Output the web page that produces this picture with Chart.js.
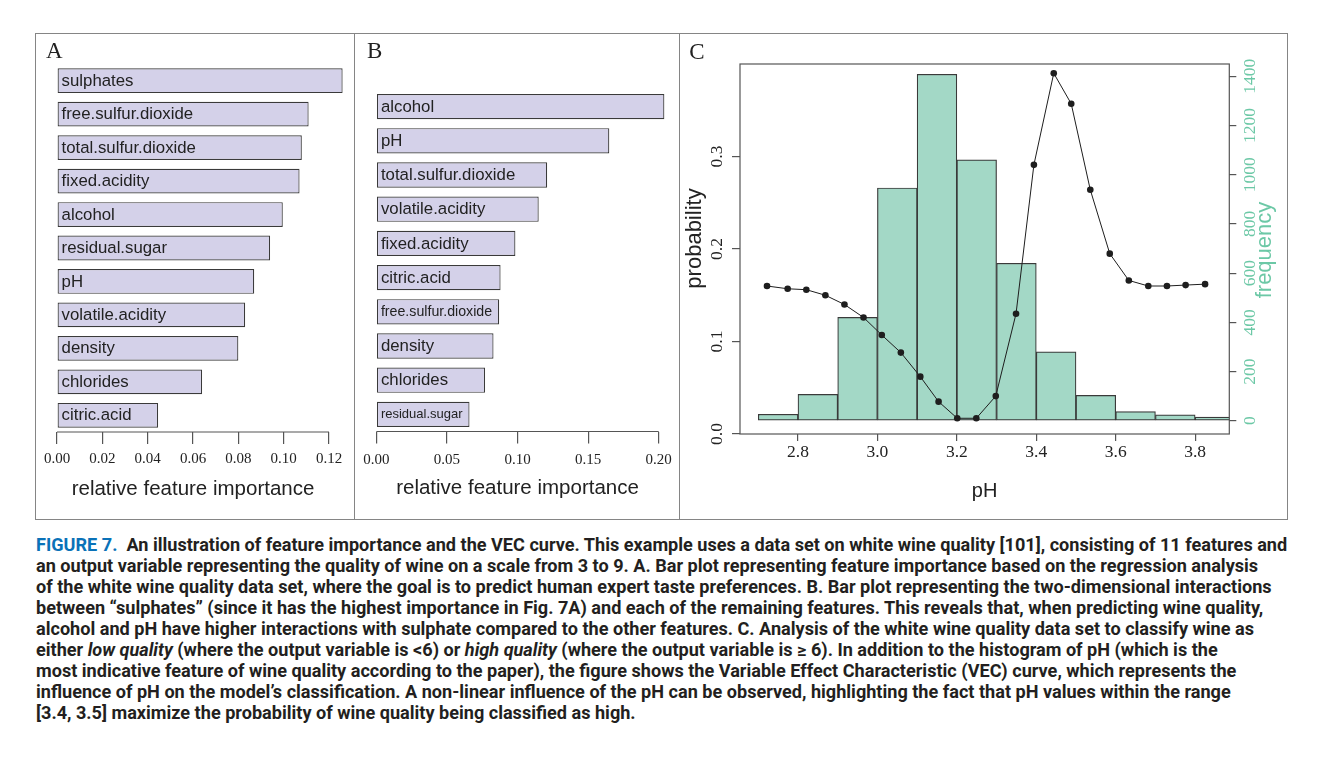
<!DOCTYPE html>
<html lang="en">
<head>
<meta charset="UTF-8">
<title>Feature importance and the VEC curve</title>
<script src="https://cdn.jsdelivr.net/npm/chart.js"></script>
<style>
  body {
    margin: 0;
    width: 1342px;
    height: 771px;
    position: relative;
    overflow: hidden;
    background: #fff;
    font-family: "Liberation Sans", Arial, sans-serif;
  }
  #frame {
    position: absolute;
    left: 35.25px; top: 33.25px;
    width: 1252.5px; height: 486.5px;
    border: 1.5px solid #858585;
    box-sizing: border-box;
  }
  .divider {
    position: absolute;
    top: 34px; height: 485px; width: 0;
    border-left: 1.5px solid #858585;
  }
  .panel { position: absolute; top: 35px; height: 484px; }
  .letter {
    position: absolute;
    font-family: "Liberation Serif", "Times New Roman", serif;
    font-size: 23px; line-height: 23px;
    color: #222;
  }
  #caption {
    position: absolute;
    left: 36px; top: 535px;
    font-family: Roboto, "Noto Sans", sans-serif;
    font-weight: 700;
    font-size: 17.5px;
    line-height: 21px;
    color: #231f20;
    white-space: nowrap;
    transform-origin: left top;
  }
  #caption .fig { color: #0a72b8; }
</style>
</head>
<body>

<div id="frame"></div>
<div class="divider" style="left:354.25px"></div>
<div class="divider" style="left:679.25px"></div>

<div class="panel" style="left:37px;width:317px"><canvas id="chartA"></canvas></div>
<div class="panel" style="left:356px;width:323px"><canvas id="chartB"></canvas></div>
<div class="panel" style="left:681px;width:605px"><canvas id="chartC"></canvas></div>

<div class="letter" style="left:46px;top:39.3px">A</div>
<div class="letter" style="left:367px;top:39.3px">B</div>
<div class="letter" style="left:689.3px;top:40px">C</div>

<div id="caption">
  <span class="ln"><span class="fig">FIGURE 7.</span>&nbsp; An illustration of feature importance and the VEC curve. This example uses a data set on white wine quality [101], consisting of 11 features and</span><br>
  <span class="ln">an output variable representing the quality of wine on a scale from 3 to 9. A. Bar plot representing feature importance based on the regression analysis</span><br>
  <span class="ln">of the white wine quality data set, where the goal is to predict human expert taste preferences. B. Bar plot representing the two-dimensional interactions</span><br>
  <span class="ln">between “sulphates” (since it has the highest importance in Fig. 7A) and each of the remaining features. This reveals that, when predicting wine quality,</span><br>
  <span class="ln">alcohol and pH have higher interactions with sulphate compared to the other features. C. Analysis of the white wine quality data set to classify wine as</span><br>
  <span class="ln">either <i>low quality</i> (where the output variable is &lt;6) or <i>high quality</i> (where the output variable is ≥ 6). In addition to the histogram of pH (which is the</span><br>
  <span class="ln">most indicative feature of wine quality according to the paper), the figure shows the Variable Effect Characteristic (VEC) curve, which represents the</span><br>
  <span class="ln">influence of pH on the model’s classification. A non-linear influence of the pH can be observed, highlighting the fact that pH values within the range</span><br>
  <span class="ln">[3.4, 3.5] maximize the probability of wine quality being classified as high.</span>
</div>

<script>
  // Panel A : importance des variables
  const featuresA = ['sulphates', 'free.sulfur.dioxide', 'total.sulfur.dioxide', 'fixed.acidity', 'alcohol',
    'residual.sugar', 'pH', 'volatile.acidity', 'density', 'chlorides', 'citric.acid'];
  const importanceA = [0.126, 0.111, 0.108, 0.107, 0.0996, 0.094, 0.087, 0.083, 0.080, 0.064, 0.0446];
  const ticksA = [0, 0.02, 0.04, 0.06, 0.08, 0.10, 0.12];

  // Panel B : interactions avec sulphates
  const featuresB = ['alcohol', 'pH', 'total.sulfur.dioxide', 'volatile.acidity', 'fixed.acidity',
    'citric.acid', 'free.sulfur.dioxide', 'density', 'chlorides', 'residual.sugar'];
  const importanceB = [0.204, 0.165, 0.121, 0.115, 0.0985, 0.088, 0.087, 0.083, 0.077, 0.066];
  const ticksB = [0, 0.05, 0.10, 0.15, 0.20];

  // Panel C : histogramme du pH + courbe VEC
  const phBins = [2.75, 2.85, 2.95, 3.05, 3.15, 3.25, 3.35, 3.45, 3.55, 3.65, 3.75, 3.85];
  const phFreq = [26, 107, 420, 946, 1408, 1060, 640, 280, 103, 37, 24, 15];
  const vecPH = [2.722, 2.774, 2.821, 2.869, 2.917, 2.965, 3.011, 3.059, 3.108, 3.154, 3.201, 3.249,
    3.298, 3.349, 3.394, 3.444, 3.488, 3.536, 3.585, 3.633, 3.682, 3.729, 3.776, 3.825];
  const vecProb = [0.160, 0.157, 0.156, 0.150, 0.140, 0.126, 0.107, 0.088, 0.062, 0.035, 0.017, 0.017,
    0.041, 0.130, 0.291, 0.390, 0.357, 0.264, 0.195, 0.166, 0.160, 0.160, 0.161, 0.162];
  const phTicks = [2.8, 3.0, 3.2, 3.4, 3.6, 3.8];
  const probTicks = [0, 0.1, 0.2, 0.3];
  const freqTicks = [0, 200, 400, 600, 800, 1000, 1200, 1400];

  const mint = '#6cc8a6';
  const serif = '"Liberation Serif", "Times New Roman", serif';
  Chart.defaults.font.family = '"Liberation Sans", Arial, sans-serif';
  Chart.defaults.color = '#222';

  const fixedTicks = list => scale => { scale.ticks = list.map(v => ({ value: v })); };

  // noms des variables écrits dans les barres
  const barLabels = {
    id: 'barLabels',
    afterDatasetsDraw(chart) {
      const ctx = chart.ctx;
      const meta = chart.getDatasetMeta(0);
      ctx.save();
      ctx.fillStyle = '#222';
      ctx.textBaseline = 'middle';
      ctx.textAlign = 'left';
      meta.data.forEach((bar, i) => {
        const { x, y, base } = bar.getProps(['x', 'y', 'base'], true);
        const text = chart.data.labels[i];
        let size = 16.8;
        ctx.font = size + 'px "Liberation Sans", Arial, sans-serif';
        const room = x - base - 11;
        const w = ctx.measureText(text).width;
        if (w > room) {
          size = size * room / w;
          ctx.font = size + 'px "Liberation Sans", Arial, sans-serif';
        }
        ctx.fillText(text, base + 4, y + 0.5);
      });
      ctx.restore();
    }
  };

  // axe façon R : ligne du premier au dernier tick, titre centré dessous
  const axisLine = {
    id: 'axisLine',
    afterDraw(chart) {
      const s = chart.scales.x;
      const ctx = chart.ctx;
      const y = chart.chartArea.bottom;
      const x0 = s.getPixelForValue(s.ticks[0].value);
      const x1 = s.getPixelForValue(s.ticks[s.ticks.length - 1].value);
      ctx.save();
      ctx.strokeStyle = '#555';
      ctx.lineWidth = 1.2;
      ctx.beginPath();
      ctx.moveTo(x0, y);
      ctx.lineTo(x1, y);
      ctx.stroke();
      ctx.fillStyle = '#222';
      ctx.font = '20.5px "Liberation Sans", Arial, sans-serif';
      ctx.textAlign = 'center';
      ctx.textBaseline = 'middle';
      ctx.fillText('relative feature importance', (x0 + x1) / 2, y + 57);
      ctx.restore();
    }
  };

  function importanceChart(id, labels, values, ticks, o) {
    return new Chart(document.getElementById(id), {
      type: 'bar',
      data: {
        labels: labels,
        datasets: [{
          data: values,
          backgroundColor: '#d4d1e9',
          borderColor: '#3a3a3a',
          borderWidth: 1.2,
          borderSkipped: false,
          barPercentage: 0.74,
          categoryPercentage: 1
        }]
      },
      options: {
        indexAxis: 'y',
        animation: false,
        responsive: true,
        maintainAspectRatio: false,
        layout: { padding: o.padding },
        plugins: { legend: { display: false }, tooltip: { enabled: false } },
        scales: {
          y: { display: false },
          x: {
            min: 0,
            max: o.max,
            afterBuildTicks: fixedTicks(ticks),
            afterFit: s => { s.height = o.axisHeight; },
            grid: { drawOnChartArea: false, drawTicks: true, tickLength: 12, color: '#555', lineWidth: 1.2 },
            border: { display: false },
            ticks: {
              padding: o.tickPad,
              color: '#222',
              autoSkip: false,
              maxRotation: 0,
              font: { family: serif, size: 15 },
              callback: v => Number(v).toFixed(2)
            }
          }
        }
      },
      plugins: [barLabels, axisLine]
    });
  }

  importanceChart('chartA', featuresA, importanceA, ticksA, {
    max: 0.13, padding: { left: 20, right: 2.3, top: 29, bottom: 0 }, axisHeight: 87, tickPad: 5.8
  });
  importanceChart('chartB', featuresB, importanceB, ticksB, {
    max: 0.21, padding: { left: 19, right: 0.2, top: 54.5, bottom: 0 }, axisHeight: 87.5, tickPad: 7.2
  });

  // cadre du panneau C et titres verticaux (lus de bas en haut, comme dans R)
  const frameC = {
    id: 'frameC',
    afterDraw(chart) {
      const { ctx, chartArea: a } = chart;
      ctx.save();
      ctx.strokeStyle = '#555';
      ctx.lineWidth = 1.2;
      ctx.strokeRect(a.left, a.top, a.right - a.left, a.bottom - a.top);
      ctx.font = '22px "Liberation Sans", Arial, sans-serif';
      ctx.textAlign = 'center';
      ctx.textBaseline = 'middle';
      const mid = (a.top + a.bottom) / 2;
      ctx.save();
      ctx.translate(a.left - 44.6, mid - 10.5);
      ctx.rotate(-Math.PI / 2);
      ctx.fillStyle = '#222';
      ctx.fillText('probability', 0, 0);
      ctx.restore();
      ctx.translate(a.right + 35.4, mid + 1);
      ctx.rotate(-Math.PI / 2);
      ctx.fillStyle = mint;
      ctx.fillText('frequency', 0, 0);
      ctx.restore();
    }
  };

  new Chart(document.getElementById('chartC'), {
    type: 'bar',
    data: {
      datasets: [{
        type: 'line',
        data: vecPH.map((x, i) => ({ x: x, y: vecProb[i] })),
        yAxisID: 'yProb',
        borderColor: '#1e1e1e',
        borderWidth: 1,
        pointRadius: 3.3,
        pointBackgroundColor: '#1e1e1e',
        pointBorderWidth: 0,
        tension: 0,
        order: 0
      }, {
        type: 'bar',
        data: phBins.map((x, i) => ({ x: x, y: phFreq[i] })),
        yAxisID: 'yFreq',
        backgroundColor: '#a3d8c6',
        borderColor: '#3a3a3a',
        borderWidth: 1.2,
        borderSkipped: false,
        barPercentage: 1,
        categoryPercentage: 1,
        order: 1
      }]
    },
    options: {
      animation: false,
      responsive: true,
      maintainAspectRatio: false,
      layout: { padding: { top: 29, left: 0, right: 0, bottom: 0 } },
      plugins: { legend: { display: false }, tooltip: { enabled: false } },
      scales: {
        x: {
          type: 'linear',
          min: 2.654,
          max: 3.886,
          offset: false,
          afterBuildTicks: fixedTicks(phTicks),
          afterFit: s => { s.height = 85; },
          grid: { offset: false, drawOnChartArea: false, tickLength: 7, color: '#555', lineWidth: 1.2 },
          border: { display: false },
          ticks: {
            padding: 1.3,
            color: '#222',
            maxRotation: 0,
            font: { family: serif, size: 17.5 },
            callback: v => Number(v).toFixed(1)
          },
          title: {
            display: true,
            text: 'pH',
            color: '#222',
            font: { size: 20 },
            padding: { top: 0, bottom: 15.3 }
          }
        },
        yProb: {
          type: 'linear',
          position: 'left',
          min: 0,
          max: 0.4,
          afterBuildTicks: fixedTicks(probTicks),
          afterFit: s => { s.width = 59; },
          grid: { drawOnChartArea: false, tickLength: 8, color: '#555', lineWidth: 1.2 },
          border: { display: false },
          ticks: {
            minRotation: 90,
            maxRotation: 90,
            crossAlign: 'center',
            padding: 3.6,
            color: '#222',
            font: { family: serif, size: 17.5 },
            callback: v => Number(v).toFixed(1)
          }
        },
        yFreq: {
          type: 'linear',
          position: 'right',
          min: -54,
          max: 1450,
          afterBuildTicks: fixedTicks(freqTicks),
          afterFit: s => { s.width = 56.7; },
          grid: { drawOnChartArea: false, tickLength: 7, color: '#555', lineWidth: 1.2 },
          border: { display: false },
          ticks: {
            minRotation: 90,
            maxRotation: 90,
            crossAlign: 'center',
            padding: -3.8,
            color: mint,
            font: { family: serif, size: 17.5 },
            callback: v => String(v)
          }
        }
      }
    },
    plugins: [frameC]
  });

  // légende : largeur ajustée sur la première ligne
  const caption = document.getElementById('caption');
  const firstLine = caption.querySelector('.ln');
  caption.style.transform = 'scaleX(' + (1251 / firstLine.offsetWidth) + ')';
</script>

</body>
</html>
